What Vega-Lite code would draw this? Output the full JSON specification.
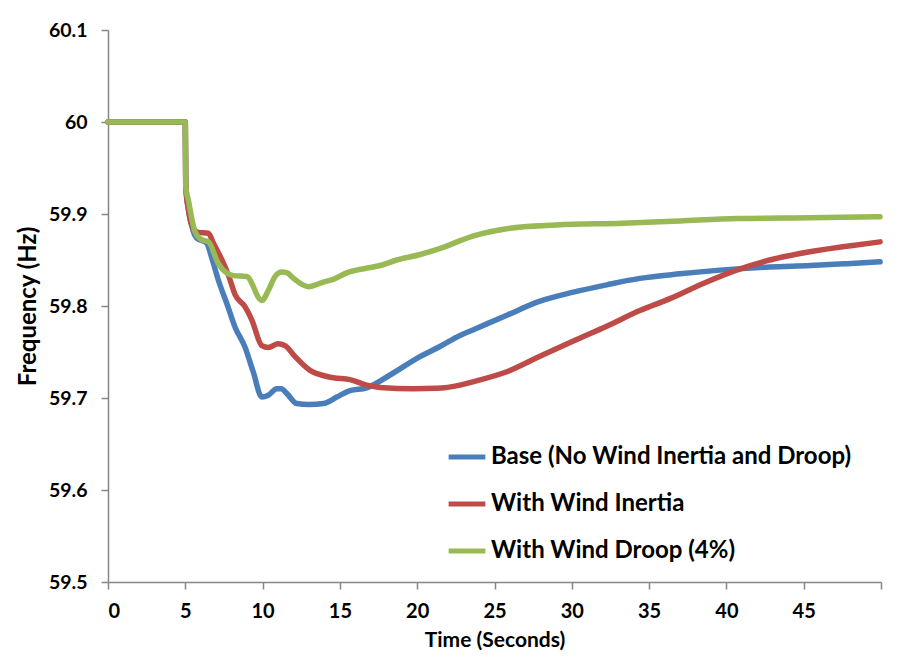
{
  "$schema": "https://vega.github.io/schema/vega-lite/v6.json",
  "width": 773,
  "height": 552,
  "autosize": {"type": "none"},
  "padding": {"left": 108, "top": 30, "right": 33, "bottom": 79},
  "background": "white",
  "config": {
    "view": {"stroke": null},
    "font": "Lato",
    "axis": {
      "grid": false,
      "domainColor": "#868686",
      "tickColor": "#868686",
      "domainWidth": 1.5,
      "tickWidth": 1.5,
      "tickSize": 7,
      "labelFont": "Lato",
      "labelFontWeight": "bold",
      "labelColor": "#000000",
      "titleFont": "Lato",
      "titleFontWeight": "bold",
      "titleColor": "#000000"
    },
    "legend": {
      "labelFont": "Lato",
      "labelFontWeight": "bold",
      "labelColor": "#000000"
    }
  },
  "data": {
    "values": [
      {"s": "Base (No Wind Inertia and Droop)", "t": 0, "f": 60.0},
      {"s": "Base (No Wind Inertia and Droop)", "t": 5.0, "f": 60.0},
      {"s": "Base (No Wind Inertia and Droop)", "t": 5.03, "f": 59.93},
      {"s": "Base (No Wind Inertia and Droop)", "t": 5.2, "f": 59.905},
      {"s": "Base (No Wind Inertia and Droop)", "t": 5.5, "f": 59.882},
      {"s": "Base (No Wind Inertia and Droop)", "t": 5.8, "f": 59.873},
      {"s": "Base (No Wind Inertia and Droop)", "t": 6.1, "f": 59.871},
      {"s": "Base (No Wind Inertia and Droop)", "t": 6.4, "f": 59.868},
      {"s": "Base (No Wind Inertia and Droop)", "t": 6.7, "f": 59.853},
      {"s": "Base (No Wind Inertia and Droop)", "t": 7.14, "f": 59.828},
      {"s": "Base (No Wind Inertia and Droop)", "t": 7.68, "f": 59.803},
      {"s": "Base (No Wind Inertia and Droop)", "t": 8.22, "f": 59.777},
      {"s": "Base (No Wind Inertia and Droop)", "t": 8.87, "f": 59.755},
      {"s": "Base (No Wind Inertia and Droop)", "t": 9.4, "f": 59.728},
      {"s": "Base (No Wind Inertia and Droop)", "t": 9.95, "f": 59.701},
      {"s": "Base (No Wind Inertia and Droop)", "t": 10.37, "f": 59.703},
      {"s": "Base (No Wind Inertia and Droop)", "t": 10.91, "f": 59.71},
      {"s": "Base (No Wind Inertia and Droop)", "t": 11.2, "f": 59.71},
      {"s": "Base (No Wind Inertia and Droop)", "t": 11.56, "f": 59.705},
      {"s": "Base (No Wind Inertia and Droop)", "t": 12.2, "f": 59.694},
      {"s": "Base (No Wind Inertia and Droop)", "t": 13.0, "f": 59.693},
      {"s": "Base (No Wind Inertia and Droop)", "t": 13.93, "f": 59.694},
      {"s": "Base (No Wind Inertia and Droop)", "t": 14.8, "f": 59.701},
      {"s": "Base (No Wind Inertia and Droop)", "t": 15.65, "f": 59.708},
      {"s": "Base (No Wind Inertia and Droop)", "t": 16.73, "f": 59.711},
      {"s": "Base (No Wind Inertia and Droop)", "t": 18.24, "f": 59.725},
      {"s": "Base (No Wind Inertia and Droop)", "t": 20.18, "f": 59.745},
      {"s": "Base (No Wind Inertia and Droop)", "t": 21.47, "f": 59.756},
      {"s": "Base (No Wind Inertia and Droop)", "t": 22.77, "f": 59.768},
      {"s": "Base (No Wind Inertia and Droop)", "t": 23.6, "f": 59.774},
      {"s": "Base (No Wind Inertia and Droop)", "t": 25.8, "f": 59.79},
      {"s": "Base (No Wind Inertia and Droop)", "t": 27.9, "f": 59.805},
      {"s": "Base (No Wind Inertia and Droop)", "t": 30.1, "f": 59.815},
      {"s": "Base (No Wind Inertia and Droop)", "t": 32.26, "f": 59.823},
      {"s": "Base (No Wind Inertia and Droop)", "t": 34.4, "f": 59.83},
      {"s": "Base (No Wind Inertia and Droop)", "t": 37.0, "f": 59.835},
      {"s": "Base (No Wind Inertia and Droop)", "t": 39.6, "f": 59.839},
      {"s": "Base (No Wind Inertia and Droop)", "t": 42.8, "f": 59.8425},
      {"s": "Base (No Wind Inertia and Droop)", "t": 45.4, "f": 59.844},
      {"s": "Base (No Wind Inertia and Droop)", "t": 47.8, "f": 59.846},
      {"s": "Base (No Wind Inertia and Droop)", "t": 49.94, "f": 59.848},
      {"s": "With Wind Inertia", "t": 0, "f": 60.0},
      {"s": "With Wind Inertia", "t": 5.0, "f": 60.0},
      {"s": "With Wind Inertia", "t": 5.03, "f": 59.93},
      {"s": "With Wind Inertia", "t": 5.2, "f": 59.905},
      {"s": "With Wind Inertia", "t": 5.5, "f": 59.885},
      {"s": "With Wind Inertia", "t": 5.84, "f": 59.88},
      {"s": "With Wind Inertia", "t": 6.49, "f": 59.879},
      {"s": "With Wind Inertia", "t": 6.83, "f": 59.868},
      {"s": "With Wind Inertia", "t": 7.37, "f": 59.85},
      {"s": "With Wind Inertia", "t": 7.8, "f": 59.833},
      {"s": "With Wind Inertia", "t": 8.23, "f": 59.812},
      {"s": "With Wind Inertia", "t": 8.87, "f": 59.799},
      {"s": "With Wind Inertia", "t": 9.3, "f": 59.785},
      {"s": "With Wind Inertia", "t": 9.95, "f": 59.757},
      {"s": "With Wind Inertia", "t": 10.37, "f": 59.755},
      {"s": "With Wind Inertia", "t": 11.0, "f": 59.759},
      {"s": "With Wind Inertia", "t": 11.45, "f": 59.757},
      {"s": "With Wind Inertia", "t": 12.1, "f": 59.745},
      {"s": "With Wind Inertia", "t": 13.07, "f": 59.73},
      {"s": "With Wind Inertia", "t": 14.57, "f": 59.722},
      {"s": "With Wind Inertia", "t": 15.65, "f": 59.72},
      {"s": "With Wind Inertia", "t": 16.73, "f": 59.714},
      {"s": "With Wind Inertia", "t": 17.6, "f": 59.7115},
      {"s": "With Wind Inertia", "t": 19.75, "f": 59.71},
      {"s": "With Wind Inertia", "t": 21.26, "f": 59.7105},
      {"s": "With Wind Inertia", "t": 22.77, "f": 59.714},
      {"s": "With Wind Inertia", "t": 23.6, "f": 59.7176},
      {"s": "With Wind Inertia", "t": 25.8, "f": 59.7285},
      {"s": "With Wind Inertia", "t": 27.9, "f": 59.745},
      {"s": "With Wind Inertia", "t": 30.1, "f": 59.762},
      {"s": "With Wind Inertia", "t": 32.26, "f": 59.778},
      {"s": "With Wind Inertia", "t": 34.4, "f": 59.795},
      {"s": "With Wind Inertia", "t": 36.35, "f": 59.808},
      {"s": "With Wind Inertia", "t": 38.5, "f": 59.8245},
      {"s": "With Wind Inertia", "t": 40.66, "f": 59.839},
      {"s": "With Wind Inertia", "t": 42.8, "f": 59.85},
      {"s": "With Wind Inertia", "t": 45.4, "f": 59.859},
      {"s": "With Wind Inertia", "t": 47.8, "f": 59.865},
      {"s": "With Wind Inertia", "t": 49.94, "f": 59.8697},
      {"s": "With Wind Droop (4%)", "t": 0, "f": 60.0},
      {"s": "With Wind Droop (4%)", "t": 5.0, "f": 60.0},
      {"s": "With Wind Droop (4%)", "t": 5.03, "f": 59.93},
      {"s": "With Wind Droop (4%)", "t": 5.2, "f": 59.915},
      {"s": "With Wind Droop (4%)", "t": 5.62, "f": 59.881},
      {"s": "With Wind Droop (4%)", "t": 6.06, "f": 59.872},
      {"s": "With Wind Droop (4%)", "t": 6.49, "f": 59.87},
      {"s": "With Wind Droop (4%)", "t": 7.14, "f": 59.846},
      {"s": "With Wind Droop (4%)", "t": 8.12, "f": 59.833},
      {"s": "With Wind Droop (4%)", "t": 8.97, "f": 59.832},
      {"s": "With Wind Droop (4%)", "t": 9.95, "f": 59.806},
      {"s": "With Wind Droop (4%)", "t": 10.4, "f": 59.818},
      {"s": "With Wind Droop (4%)", "t": 10.8, "f": 59.832},
      {"s": "With Wind Droop (4%)", "t": 11.24, "f": 59.837},
      {"s": "With Wind Droop (4%)", "t": 11.6, "f": 59.836},
      {"s": "With Wind Droop (4%)", "t": 12.0, "f": 59.83},
      {"s": "With Wind Droop (4%)", "t": 12.96, "f": 59.821},
      {"s": "With Wind Droop (4%)", "t": 13.93, "f": 59.826},
      {"s": "With Wind Droop (4%)", "t": 14.57, "f": 59.829},
      {"s": "With Wind Droop (4%)", "t": 15.44, "f": 59.836},
      {"s": "With Wind Droop (4%)", "t": 16.7, "f": 59.841},
      {"s": "With Wind Droop (4%)", "t": 17.6, "f": 59.844},
      {"s": "With Wind Droop (4%)", "t": 18.67, "f": 59.85},
      {"s": "With Wind Droop (4%)", "t": 20.2, "f": 59.856},
      {"s": "With Wind Droop (4%)", "t": 21.4, "f": 59.862},
      {"s": "With Wind Droop (4%)", "t": 23.6, "f": 59.876},
      {"s": "With Wind Droop (4%)", "t": 25.8, "f": 59.884},
      {"s": "With Wind Droop (4%)", "t": 29.0, "f": 59.888},
      {"s": "With Wind Droop (4%)", "t": 33.3, "f": 59.89},
      {"s": "With Wind Droop (4%)", "t": 37.0, "f": 59.8925},
      {"s": "With Wind Droop (4%)", "t": 40.7, "f": 59.895},
      {"s": "With Wind Droop (4%)", "t": 45.4, "f": 59.896},
      {"s": "With Wind Droop (4%)", "t": 49.94, "f": 59.897}
    ]
  },
  "encoding": {
    "x": {
      "field": "t",
      "type": "quantitative",
      "scale": {"domain": [0, 50], "nice": false},
      "axis": {
        "title": "Time (Seconds)",
        "values": [0, 5, 10, 15, 20, 25, 30, 35, 40, 45, 50],
        "labelExpr": "datum.value == 50 ? '' : datum.label",
        "labelFontSize": 20,
        "labelPadding": 12,
        "titleFontSize": 21,
        "titlePadding": 8
      }
    },
    "y": {
      "field": "f",
      "type": "quantitative",
      "scale": {"domain": [59.5, 60.1], "nice": false, "zero": false},
      "axis": {
        "title": "Frequency (Hz)",
        "values": [59.5, 59.6, 59.7, 59.8, 59.9, 60.0, 60.1],
        "labelExpr": "format(datum.value, '~g')",
        "labelFontSize": 19.5,
        "labelPadding": 14,
        "titleFontSize": 24,
        "titlePadding": 8
      }
    },
    "color": {
      "field": "s",
      "type": "nominal",
      "scale": {
        "domain": ["Base (No Wind Inertia and Droop)", "With Wind Inertia", "With Wind Droop (4%)"],
        "range": ["#4A7EBB", "#BE4B48", "#98B954"]
      },
      "legend": {
        "title": null,
        "orient": "none",
        "legendX": 338,
        "legendY": 406,
        "symbolType": "stroke",
        "symbolSize": 1350,
        "symbolStrokeWidth": 5,
        "labelFontSize": 24,
        "labelLimit": 0,
        "labelOffset": 3,
        "rowPadding": 14
      }
    }
  },
  "layer": [
    {
      "transform": [{"filter": "datum.s == 'Base (No Wind Inertia and Droop)'"}],
      "mark": {"type": "line", "strokeWidth": 5.5, "interpolate": "monotone", "strokeCap": "round", "strokeJoin": "round"}
    },
    {
      "transform": [{"filter": "datum.s == 'With Wind Inertia'"}],
      "mark": {"type": "line", "strokeWidth": 5.5, "interpolate": "monotone", "strokeCap": "round", "strokeJoin": "round"}
    },
    {
      "transform": [{"filter": "datum.s == 'With Wind Droop (4%)'"}],
      "mark": {"type": "line", "strokeWidth": 5.5, "interpolate": "monotone", "strokeCap": "round", "strokeJoin": "round"}
    }
  ]
}
